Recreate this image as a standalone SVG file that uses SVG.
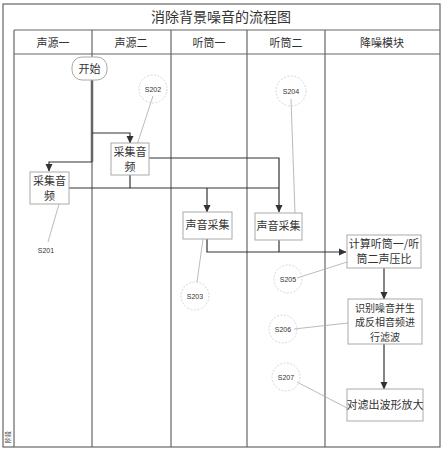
<svg xmlns="http://www.w3.org/2000/svg" width="442" height="450" viewBox="0 0 442 450">
<style>
.frame{fill:none;stroke:#666;stroke-width:1.2}
.t{font-family:"Noto Sans CJK SC",sans-serif;fill:#333;text-anchor:middle}
.box{fill:#fff;stroke:#aaa;stroke-width:1}
.lab{font-family:"Liberation Sans","DejaVu Sans",sans-serif;font-size:7px;fill:#333;text-anchor:middle}
.circ{fill:none;stroke:#ccc;stroke-width:0.8;stroke-dasharray:2 1.5}
.lead{stroke:#aaa;stroke-width:0.8;fill:none}
.c{stroke:#333;stroke-width:1.2;fill:none}
</style>
<defs>
<marker id="ah" markerWidth="8" markerHeight="8" refX="7" refY="4" orient="auto" markerUnits="userSpaceOnUse">
<path d="M0,0.5 L7.5,4 L0,7.5 Z" fill="#333"/>
</marker>
</defs>
<rect width="442" height="450" fill="#fff"/>
<g id="frame">
<rect class="frame" x="3" y="4" width="437" height="443"/>
<line class="frame" x1="14" y1="30" x2="14" y2="447"/>
<line class="frame" x1="14" y1="30" x2="440" y2="30"/>
<line class="frame" x1="14" y1="54" x2="440" y2="54"/>
<line class="frame" x1="92" y1="30" x2="92" y2="447"/>
<line class="frame" x1="171" y1="30" x2="171" y2="447"/>
<line class="frame" x1="247" y1="30" x2="247" y2="447"/>
<line class="frame" x1="325" y1="30" x2="325" y2="447"/>
<text class="t" x="221" y="22" font-size="14">消除背景噪音的流程图</text>
<text class="t" x="53" y="47" font-size="11">声源一</text>
<text class="t" x="131" y="47" font-size="11">声源二</text>
<text class="t" x="209" y="47" font-size="11">听筒一</text>
<text class="t" x="286" y="47" font-size="11">听筒二</text>
<text class="t" x="382" y="47" font-size="11">降噪模块</text>
<text class="t" x="0" y="0" font-size="6" fill="#999" transform="translate(10,437) rotate(-90)">阶段</text>
</g>
<g id="connectors">
<path d="M92,80 V162" stroke="#666" stroke-width="2.5" fill="none"/>
<path class="c" d="M92,162 H49 V171" marker-end="url(#ah)"/>
<path class="c" d="M92,133 H130 V143" marker-end="url(#ah)"/>
<path class="c" d="M149,158 H279 V212" marker-end="url(#ah)"/>
<path class="c" d="M69,188 H279"/>
<path class="c" d="M130,175 V188"/>
<path class="c" d="M207,188 V212" marker-end="url(#ah)"/>
<path class="c" d="M207,239 V252 H346" marker-end="url(#ah)"/>
<path class="c" d="M279,240 V252"/>
<path class="c" d="M384,268 V299" marker-end="url(#ah)"/>
<path class="c" d="M384,344 V389" marker-end="url(#ah)"/>
<line class="lead" x1="153" y1="96" x2="137" y2="145"/>
<line class="lead" x1="291" y1="99" x2="295" y2="213"/>
<line class="lead" x1="48" y1="242" x2="59" y2="204"/>
<line class="lead" x1="197" y1="282" x2="203" y2="239"/>
<line class="lead" x1="297" y1="278" x2="347" y2="262"/>
<line class="lead" x1="294" y1="329" x2="348" y2="323"/>
<line class="lead" x1="297" y1="382" x2="347" y2="408"/>
</g>
<g id="start">
<rect class="box" x="72" y="57" width="35" height="23" rx="10"/>
<text class="t" x="89.5" y="73" font-size="11">开始</text>
</g>
<g id="s201box">
<rect class="box" x="30" y="172" width="39" height="32"/>
<text class="t" x="49.5" y="185" font-size="11">采集音</text>
<text class="t" x="49.5" y="200" font-size="11">频</text>
</g>
<g id="s202box">
<rect class="box" x="111" y="143" width="38" height="32"/>
<text class="t" x="130" y="156" font-size="11">采集音</text>
<text class="t" x="130" y="171" font-size="11">频</text>
</g>
<g id="s203box">
<rect class="box" x="183" y="212" width="49" height="27"/>
<text class="t" x="207.5" y="229" font-size="11">声音采集</text>
</g>
<g id="s204box">
<rect class="box" x="255" y="213" width="47" height="27"/>
<text class="t" x="278.5" y="230" font-size="11">声音采集</text>
</g>
<g id="s205box">
<rect class="box" x="347" y="235" width="74" height="33"/>
<text class="t" x="384" y="248" font-size="11">计算听筒一/听</text>
<text class="t" x="384" y="263" font-size="11">筒二声压比</text>
</g>
<g id="s206box">
<rect class="box" x="348" y="299" width="74" height="45"/>
<text class="t" x="385" y="311.5" font-size="10">识别噪音并生</text>
<text class="t" x="385" y="326" font-size="10">成反相音频进</text>
<text class="t" x="385" y="340.5" font-size="10">行滤波</text>
</g>
<g id="s207box">
<rect class="box" x="347" y="389" width="76" height="32"/>
<text class="t" x="385" y="409" font-size="11">对滤出波形放大</text>
</g>
<g id="S201"><text class="lab" x="46" y="253">S201</text></g>
<g id="S202"><circle class="circ" cx="153" cy="89" r="14"/><text class="lab" x="153" y="91.5">S202</text></g>
<g id="S203"><circle class="circ" cx="195" cy="296" r="14"/><text class="lab" x="195" y="298.5">S203</text></g>
<g id="S204"><circle class="circ" cx="291" cy="91" r="15"/><text class="lab" x="291" y="93.5">S204</text></g>
<g id="S205"><circle class="circ" cx="288" cy="279" r="14"/><text class="lab" x="288" y="281.5">S205</text></g>
<g id="S206"><circle class="circ" cx="283" cy="329" r="14"/><text class="lab" x="283" y="331.5">S206</text></g>
<g id="S207"><circle class="circ" cx="286" cy="377" r="14"/><text class="lab" x="286" y="379.5">S207</text></g>
</svg>
